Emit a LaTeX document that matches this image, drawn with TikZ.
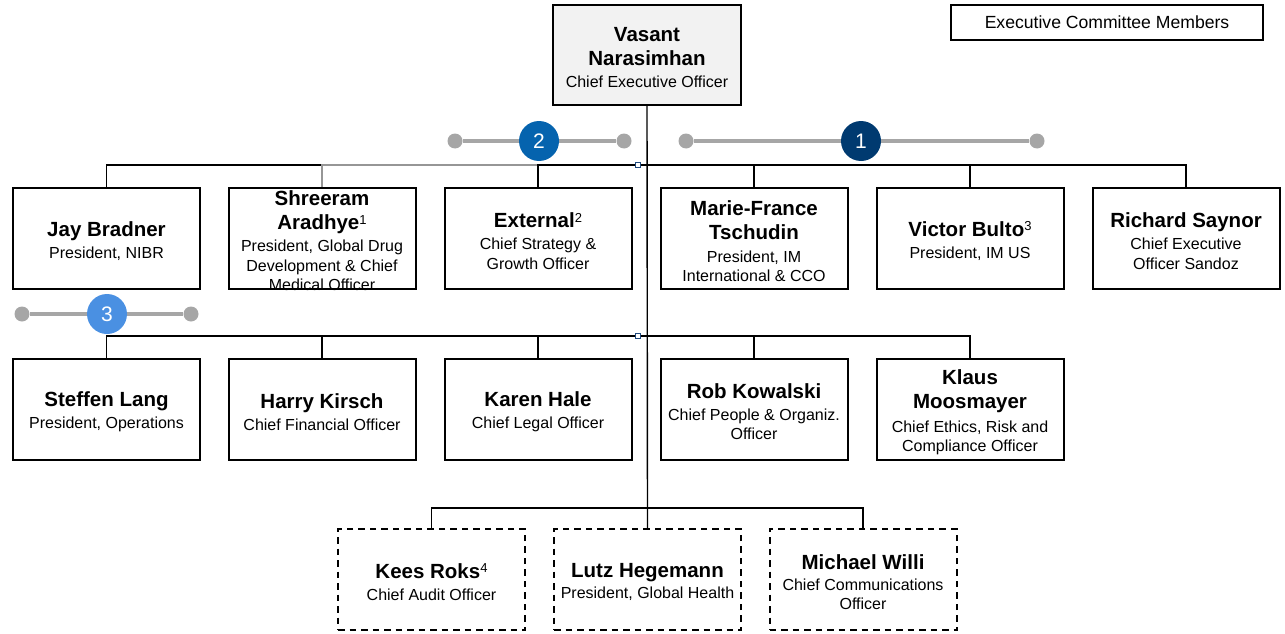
\documentclass[tikz,border=0pt]{standalone}
\usepackage{fontspec}
\setmainfont{Liberation Sans}

\definecolor{ceogray}{RGB}{242,242,242}
\definecolor{trackgray}{RGB}{166,166,166}
\definecolor{linkgray}{RGB}{150,150,150}
\definecolor{handleblue}{RGB}{31,73,125}
\definecolor{badgeone}{RGB}{0,58,112}
\definecolor{badgetwo}{RGB}{5,99,174}
\definecolor{badgethree}{RGB}{74,144,226}

\newcommand\nm{\fontsize{20.5}{24}\bfseries}
\newcommand\sbt{\fontsize{16}{19.5}\selectfont}
\newcommand\fnmark[1]{\raisebox{5.5pt}{\normalfont\fontsize{13}{13}\selectfont #1}}

\begin{document}
\begin{tikzpicture}[x=1pt,y=-1pt,
  card/.style={draw=black, line width=2pt, minimum width=187pt, minimum height=101pt, inner sep=0pt, fill=white},
  dcard/.style={card, dash pattern=on 6.5pt off 5pt},
  ceobox/.style={card, fill=ceogray, line width=1.5pt, minimum width=188pt, minimum height=100pt},
  txt/.style={align=center, font=\sbt, inner sep=0pt, yshift=-2.5pt},
  link/.style={line width=1.4pt},
  graylink/.style={line width=1.4pt, draw=linkgray},
  track/.style={draw=trackgray, line width=4pt},
  dot/.style={circle, fill=trackgray, minimum size=15pt, inner sep=0pt},
  badge/.style={circle, minimum size=40pt, inner sep=0pt, text=white, font=\fontsize{21}{24}\selectfont},
  handle/.style={draw=handleblue, fill=white, minimum size=5pt, inner sep=0pt, line width=0.9pt}]
\useasboundingbox (0,0) rectangle (1285,634);

% boxes
\node[ceobox] (ceo) at (647,55) {};
\node[card] (jay)     at (106.5,238.5) {};
\node[card] (shree)   at (322,238.5) {};
\node[card] (ext)     at (538,238.5) {};
\node[card] (mft)     at (754,238.5) {};
\node[card] (victor)  at (970,238.5) {};
\node[card] (richard) at (1186,238.5) {};
\node[card] (steffen) at (106.5,409.5) {};
\node[card] (harry)   at (322,409.5) {};
\node[card] (karen)   at (538,409.5) {};
\node[card] (rob)     at (754,409.5) {};
\node[card] (klaus)   at (970,409.5) {};
\node[dcard] (kees)   at (431.5,579.5) {};
\node[dcard] (lutz)   at (647.5,579.5) {};
\node[dcard] (willi)  at (863,579.5) {};

% bus points
\coordinate (b1) at (647,165);
\coordinate (b2) at (647,336);
\coordinate (b3) at (647,508);

% connectors
\draw[link] (ceo.south) -- (lutz.north);
\draw[link] (jay.north) |- (shree.north |- b1);
\draw[graylink] (shree.north) |- (ext.north |- b1);
\draw[link] (ext.north) |- (b1) -| (richard.north);
\draw[link] (mft.north) -- (mft.north |- b1);
\draw[link] (victor.north) -- (victor.north |- b1);
\draw[link] (steffen.north) |- (b2) -| (klaus.north);
\draw[link] (harry.north) -- (harry.north |- b2);
\draw[link] (karen.north) -- (karen.north |- b2);
\draw[link] (rob.north) -- (rob.north |- b2);
\draw[link] (kees.north) |- (b3) -| (willi.north);

\node[handle] (h1) at (638,165) {};
\node[handle] (h2) at (638,336) {};

% texts
\node[txt] (ceoT) at (ceo.center) {{\nm Vasant}\\[4.5pt]{\nm Narasimhan}\\[2.5pt]Chief Executive Officer};
\node[txt] (jayT) at (jay.center) {{\nm Jay Bradner}\\[2.5pt]President, NIBR};
\node[txt] (shreeT) at (shree.center) {{\nm Shreeram}\\[4.5pt]{\nm Aradhye\fnmark{1}}\\[2.5pt]President, Global Drug\\Development \& Chief\\Medical Officer};
\node[txt] (extT) at (ext.center) {{\nm External\fnmark{2}}\\[2.5pt]Chief Strategy \&\\Growth Officer};
\node[txt] (mftT) at (mft.center) {{\nm Marie-France}\\[4.5pt]{\nm Tschudin}\\[3.5pt]President, IM\\International \& CCO};
\node[txt] (victorT) at (victor.center) {{\nm Victor Bulto\fnmark{3}}\\[2.5pt]President, IM US};
\node[txt] (richardT) at (richard.center) {{\nm Richard Saynor}\\[2.5pt]Chief Executive\\Officer Sandoz};
\node[txt] (steffenT) at (steffen.center) {{\nm Steffen Lang}\\[2.5pt]President, Operations};
\node[txt] (harryT) at (harry.center) {{\nm Harry Kirsch}\\[2.5pt]Chief Financial Officer};
\node[txt] (karenT) at (karen.center) {{\nm Karen Hale}\\[2.5pt]Chief Legal Officer};
\node[txt] (robT) at (rob.center) {{\nm Rob Kowalski}\\[2pt]Chief People \& Organiz.\\Officer};
\node[txt] (klausT) at (klaus.center) {{\nm Klaus}\\[4.5pt]{\nm Moosmayer}\\[4.5pt]Chief Ethics, Risk and\\Compliance Officer};
\node[txt] (keesT) at (kees.center) {{\nm Kees Roks\fnmark{4}}\\[2.5pt]Chief Audit Officer};
\node[txt] (lutzT) at (lutz.center) {{\nm Lutz Hegemann}\\[1pt]President, Global Health};
\node[txt] (williT) at (willi.center) {{\nm Michael Willi}\\[1.5pt]Chief Communications\\Officer};

% legend
\node[draw, line width=1.2pt, minimum width=312pt, minimum height=35pt, inner sep=0pt,
      font=\fontsize{17.6}{20}\selectfont] (legend) at (1107,22.5) {Executive Committee Members};

% numbered markers
\node[dot] (d2a) at (455,141) {};
\node[dot] (d2b) at (624,141) {};
\draw[track] (d2a) -- (d2b);
\node[badge, fill=badgetwo] (n2) at (539,141) {2};

\node[dot] (d1a) at (686,141) {};
\node[dot] (d1b) at (1037,141) {};
\draw[track] (d1a) -- (d1b);
\node[badge, fill=badgeone] (n1) at (861,141) {1};

\node[dot] (d3a) at (22,314) {};
\node[dot] (d3b) at (191,314) {};
\draw[track] (d3a) -- (d3b);
\node[badge, fill=badgethree] (n3) at (107,314) {3};
\end{tikzpicture}
\end{document}
